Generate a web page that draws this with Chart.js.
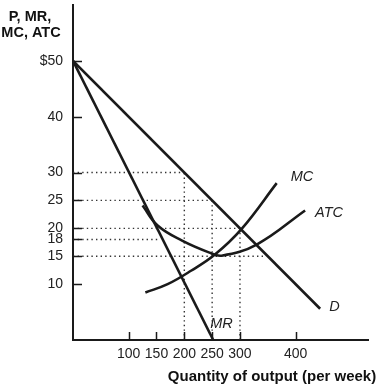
<!DOCTYPE html>
<html>
<head>
<meta charset="utf-8">
<script src="https://cdn.jsdelivr.net/npm/chart.js@4/dist/chart.umd.min.js"></script>
<style>
html, body { margin: 0; padding: 0; background: #fff; }
#wrap { width: 383px; height: 390px; }
</style>
</head>
<body>
<div id="wrap"><canvas id="chart" width="383" height="390"></canvas></div>
<script>
// Tick labels
const xTicks = [100, 150, 200, 250, 300, 400];
const yTicks = [10, 15, 18, 20, 25, 30, 40, 50];

// Curves (quantity, price)
const demandQ = [0, 444];
const demandP = [50, 5.6];
const mrQ = [0, 252];
const mrP = [50, 0];
const mcQ = [130, 170, 212, 255, 303, 366];
const mcP = [8.5, 10, 12.4, 15.3, 19.9, 28.1];
const atcQ = [125, 152, 196, 244, 267, 330, 417];
const atcP = [24.1, 20.5, 17.8, 15.7, 15.1, 17.1, 23.2];

// Dotted guides: horizontal from the axis at a price out to a quantity
const guideP = [30, 25, 20, 18, 15];
const guideQ = [200, 250, 300, 152, 342];
// and vertical from the axis at a quantity up to a price
const dropQ = [200, 250, 300];
const dropP = [30, 25, 20];

const toPoints = (qs, ps) => qs.map((q, i) => ({ x: q, y: ps[i] }));

const INK = '#1a1a1a';

function curve(label, qs, ps, tension) {
    return {
        label: label,
        data: toPoints(qs, ps),
        borderColor: INK,
        borderWidth: 2.6,
        tension: tension,
        fill: false
    };
}

const datasets = [
    curve('MC', mcQ, mcP, 0.4),
    curve('ATC', atcQ, atcP, 0.4),
    curve('D', demandQ, demandP, 0),
    curve('MR', mrQ, mrP, 0)
];

guideP.forEach((p, i) => {
    datasets.push({
        data: toPoints([0, guideQ[i]], [p, p]),
        borderColor: '#333',
        borderWidth: 1.4,
        borderDash: [1.4, 3.2]
    });
});
dropQ.forEach((q, i) => {
    datasets.push({
        data: toPoints([q, q], [0, dropP[i]]),
        borderColor: '#333',
        borderWidth: 1.4,
        borderDash: [1.4, 3.2]
    });
});

// where each curve label sits, relative to the end of its curve
const labelOffsets = { MC: [14, -6], ATC: [10, 3], D: [9, -2], MR: [-3, -16] };

const extras = {
    id: 'extras',
    afterDraw(chart) {
        const { ctx, chartArea } = chart;
        const x = chart.scales.x;
        const y = chart.scales.y;
        ctx.save();

        // tick marks point into the plot
        ctx.strokeStyle = INK;
        ctx.lineWidth = 1.5;
        ctx.beginPath();
        xTicks.forEach(v => {
            const px = Math.round(x.getPixelForValue(v)) + 0.5;
            ctx.moveTo(px, chartArea.bottom);
            ctx.lineTo(px, chartArea.bottom - 8);
        });
        yTicks.forEach(v => {
            const py = Math.round(y.getPixelForValue(v)) + 0.5;
            ctx.moveTo(chartArea.left, py);
            ctx.lineTo(chartArea.left + 9, py);
        });
        ctx.stroke();

        // curve labels
        ctx.fillStyle = '#222';
        ctx.font = 'italic 14.5px "Liberation Sans", Arial, sans-serif';
        ctx.textAlign = 'left';
        ctx.textBaseline = 'middle';
        chart.data.datasets.forEach((ds, i) => {
            if (!labelOffsets[ds.label]) return;
            const pts = chart.getDatasetMeta(i).data;
            const end = pts[pts.length - 1];
            const off = labelOffsets[ds.label];
            ctx.fillText(ds.label, end.x + off[0], end.y + off[1]);
        });

        // axis titles
        ctx.fillStyle = '#111';
        ctx.textAlign = 'center';
        ctx.font = 'bold 14.5px "Liberation Sans", Arial, sans-serif';
        ctx.fillText('P, MR,', 30, 17);
        ctx.fillText('MC, ATC', 31, 33);
        ctx.font = 'bold 15px "Liberation Sans", Arial, sans-serif';
        ctx.fillText('Quantity of output (per week)', 272, 377);
        ctx.restore();
    }
};

new Chart(document.getElementById('chart'), {
    type: 'line',
    data: { datasets: datasets },
    options: {
        responsive: false,
        animation: false,
        layout: { padding: { top: 5, right: 15, left: 0, bottom: 0 } },
        elements: { point: { radius: 0 } },
        plugins: {
            legend: { display: false },
            tooltip: { enabled: false }
        },
        scales: {
            x: {
                type: 'linear',
                min: 0,
                max: 530,
                afterBuildTicks: s => { s.ticks = xTicks.map(v => ({ value: v })); },
                afterFit: s => { s.height = 50; },
                grid: { display: false, drawTicks: false },
                border: { color: INK, width: 2 },
                ticks: {
                    color: '#222',
                    autoSkip: false,
                    maxRotation: 0,
                    padding: 6,
                    font: { family: '"Liberation Sans", Arial, sans-serif', size: 14 }
                }
            },
            y: {
                type: 'linear',
                min: 0,
                max: 60,
                afterBuildTicks: s => { s.ticks = yTicks.map(v => ({ value: v })); },
                afterFit: s => {
                    s.width = 73;
                    s.paddingTop = 0;
                    s.paddingBottom = 0;
                },
                grid: { display: false, drawTicks: false },
                border: { color: INK, width: 2 },
                ticks: {
                    color: '#222',
                    autoSkip: false,
                    padding: 10,
                    font: { family: '"Liberation Sans", Arial, sans-serif', size: 14 },
                    callback: v => v === 50 ? '$50' : String(v)
                }
            }
        }
    },
    plugins: [extras]
});
</script>
</body>
</html>
